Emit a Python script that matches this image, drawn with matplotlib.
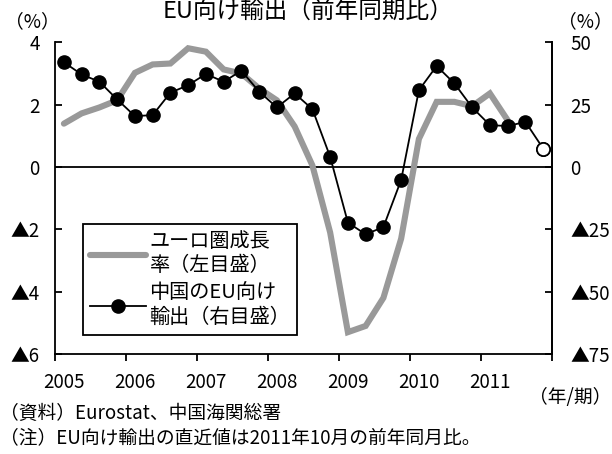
import numpy as np
import matplotlib
matplotlib.use("Agg")
import matplotlib.pyplot as plt
from matplotlib.ticker import FixedLocator

plt.rcParams['font.family'] = ['Noto Sans CJK JP', 'DejaVu Sans']

# quarterly data, 2005Q1 - 2011Q4
years = ['2005', '2006', '2007', '2008', '2009', '2010', '2011']
euro_gdp = [1.39, 1.72, 1.91, 2.14, 3.02, 3.29, 3.32, 3.81, 3.70, 3.13, 3.00, 2.52,
            2.14, 1.30, 0.05, -2.1, -5.3, -5.1, -4.2, -2.3, 0.9, 2.09, 2.09, 1.95,
            2.36, 1.5]  # to 2011Q2
china_eu = [42.0, 37.1, 34.2, 27.1, 20.4, 20.8, 29.8, 32.8, 37.3, 34.2, 38.6, 30.2,
            23.9, 29.5, 23.2, 4.1, -22.3, -27.0, -24.1, -5.2, 30.8, 40.5, 33.5, 23.9,
            16.8, 16.4, 18.1, 7.4]  # last = 2011/10

left_ticks = [-6, -4, -2, 0, 2, 4]
left_labels = ['▲6', '▲4', '▲2', '0', '2', '4']
right_ticks = [-75, -50, -25, 0, 25, 50]
right_labels = ['▲75', '▲50', '▲25', '0', '25', '50']

fs = 13.5
fig = plt.figure(figsize=(6.12, 4.54), dpi=100)
ax = fig.add_axes([0.0899, 0.2203, 0.8121, 0.6865])
ax2 = ax.twinx()

x_gdp = np.arange(len(euro_gdp))
x_exp = np.arange(len(china_eu))

ln1, = ax.plot(x_gdp, euro_gdp, color='#999999', lw=4.4, solid_capstyle='round',
               solid_joinstyle='miter', zorder=2)
ax.axhline(0, color='black', lw=1.3, zorder=1)
ln2, = ax2.plot(x_exp, china_eu, color='black', lw=1.3, marker='o', ms=9.5,
                mfc='black', mec='black', zorder=3)
ax2.plot(x_exp[-1:], china_eu[-1:], ls='none', marker='o', ms=9.5, mfc='white',
         mec='black', mew=1.3, zorder=4)

ax.set_xlim(-0.5, 27.5)
ax.set_ylim(-6, 4)
ax2.set_ylim(-75, 50)

ax.set_yticks(left_ticks)
ax.set_yticklabels(left_labels, fontsize=fs)
ax2.set_yticks(right_ticks)
ax2.set_yticklabels(right_labels, fontsize=fs)

ax.xaxis.set_major_locator(FixedLocator(np.arange(-0.5, 28, 4)))
ax.xaxis.set_major_formatter(plt.NullFormatter())
ax.xaxis.set_minor_locator(FixedLocator(np.arange(0, 28, 4)))
ax.set_xticklabels(years, minor=True, fontsize=fs)
ax.tick_params(axis='x', which='major', direction='out', length=5, width=1.3)
ax.tick_params(axis='x', which='minor', length=0, pad=13)
ax.tick_params(axis='y', direction='in', length=5, width=1.3, pad=11)
ax2.tick_params(axis='y', direction='in', length=5, width=1.3, pad=13)

for a in (ax, ax2):
    a.spines['top'].set_visible(False)
    for s in a.spines.values():
        s.set_linewidth(1.3)
ax2.spines['left'].set_visible(False)
ax2.spines['bottom'].set_visible(False)

leg = ax.legend([ln1, ln2], ['ユーロ圏成長\n率（左目盛）', '中国のEU向け\n輸出（右目盛）'],
                loc='upper left', bbox_to_anchor=(83 / 612, 1 - 224 / 454),
                bbox_transform=fig.transFigure, fontsize=14.5, frameon=True,
                fancybox=False, edgecolor='black', framealpha=1,
                handlelength=2.8, handletextpad=0.15, borderpad=0.35,
                labelspacing=0.3, borderaxespad=0)
leg.get_frame().set_linewidth(1.3)
for t in leg.get_texts():
    t.set_linespacing(1.2)

fig.text(308 / 612, 1.0, 'EU向け輸出（前年同期比）', ha='center', va='top',
         fontsize=17)
fig.text(32 / 612, 1 - 22 / 454, '（%）', ha='center', va='center', fontsize=fs)
fig.text(585 / 612, 1 - 22 / 454, '（%）', ha='center', va='center', fontsize=fs)
fig.text(611 / 612, 1 - 398 / 454, '（年/期）', ha='right', va='center', fontsize=fs)
fig.text(0.0, 1 - 413 / 454, '（資料）Eurostat、中国海関総署', ha='left', va='center',
         fontsize=fs)
fig.text(0.0, 1 - 438 / 454, '（注）EU向け輸出の直近値は2011年10月の前年同月比。',
         ha='left', va='center', fontsize=fs)

fig.savefig('out.png', dpi=100)
